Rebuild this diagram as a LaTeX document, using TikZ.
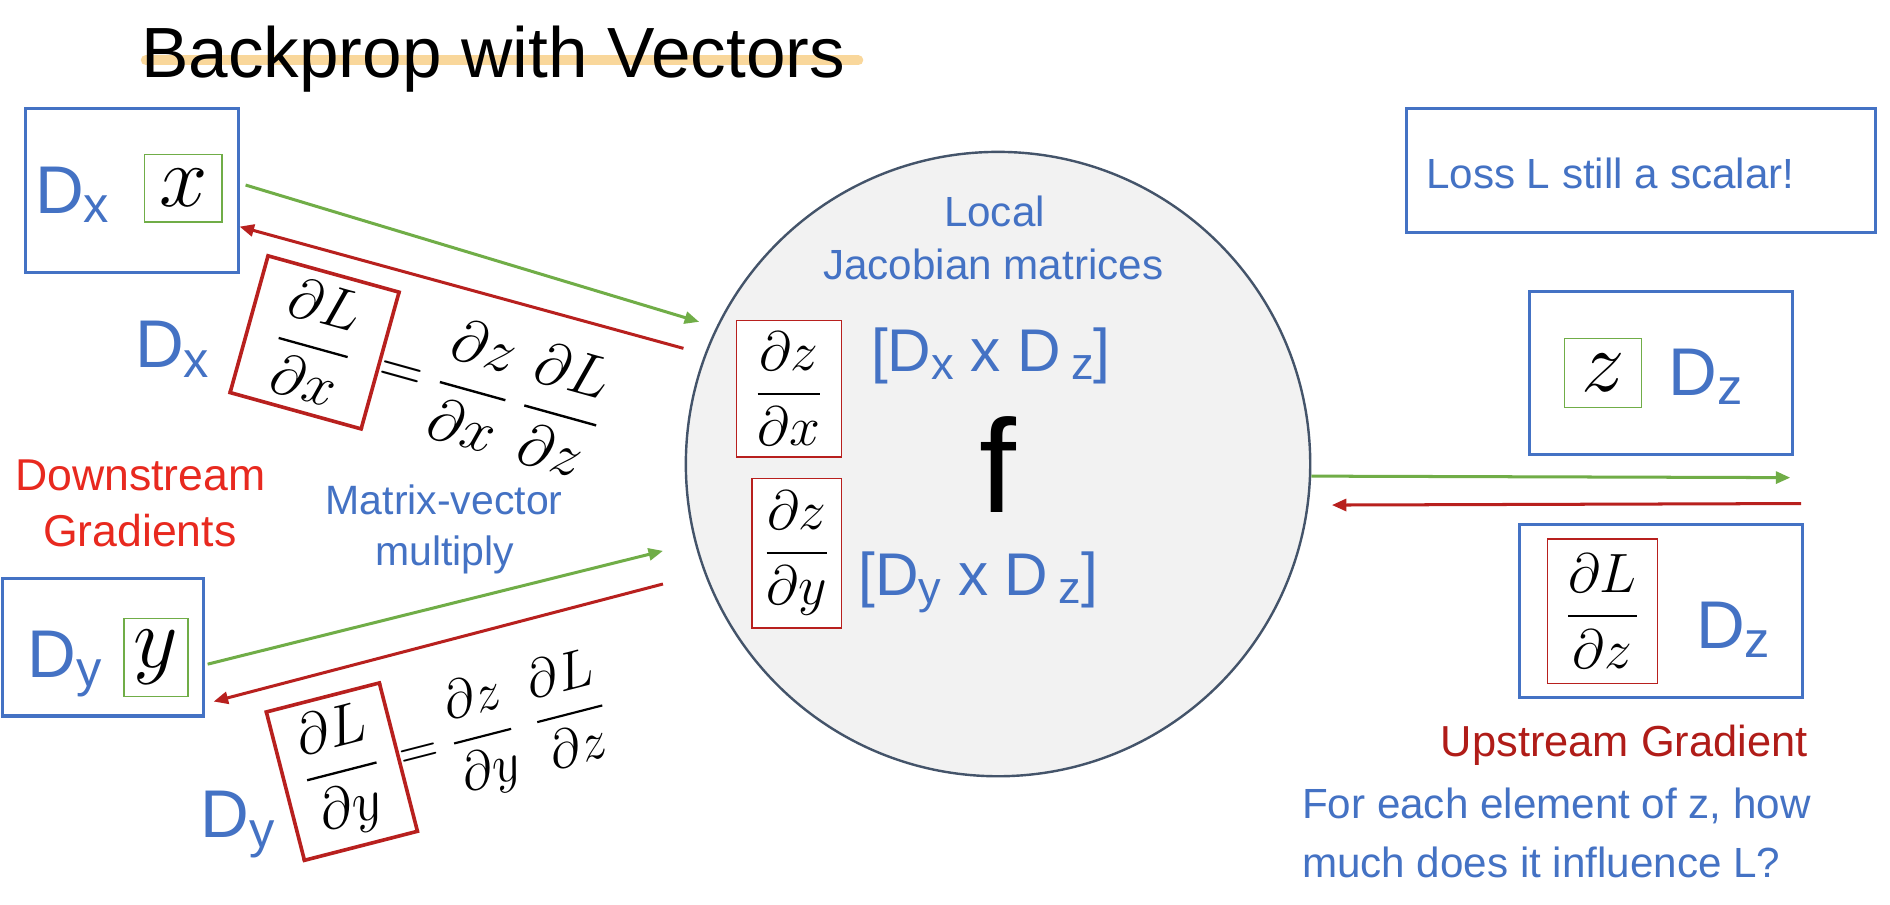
\RequirePackage{fix-cm}
\documentclass[tikz,border=0pt]{standalone}
\usepackage{amsmath,amssymb}
\usepackage[no-math]{fontspec}
\setmainfont{Liberation Sans}
\usepackage{xcolor}
\usepackage{graphicx}
\usepackage{tikz}
\usetikzlibrary{
  arrows.meta,
  positioning
}

\definecolor{boxblue}{HTML}{4472C4}
\definecolor{fwdgreen}{HTML}{70AD47}
\definecolor{bwdred}{HTML}{B8201E}
\definecolor{downred}{HTML}{E8291F}
\definecolor{upred}{HTML}{B01C18}
\definecolor{fgray}{HTML}{F2F2F2}
\definecolor{fborder}{HTML}{44546A}
\definecolor{marker}{HTML}{F9D79B}

\newcommand{\fsz}[2]{\fontsize{#1}{#2}\selectfont}
\newcommand{\lowsub}[1]{\raisebox{-0.14em}{\scalebox{0.75}{#1}}}

\begin{document}
\begin{tikzpicture}[
        x=1pt,y=-1pt,
        bluebox/.style={draw=boxblue,line width=2.5pt,inner sep=0pt},
        varbox/.style={draw=fwdgreen,line width=1.2pt,fill=white,inner sep=0pt,font=\fsz{72}{80}},
        jacbox/.style={draw=bwdred,line width=1.3pt,fill=white,inner sep=0pt,font=\fsz{46}{52}},
        bigD/.style={text=boxblue,font=\fsz{56}{60},inner sep=0pt,anchor=base west},
        bluetext/.style={text=boxblue,font=\fsz{35}{42},inner sep=0pt},
        fwd/.style={draw=fwdgreen,line width=2.5pt,-{Triangle[length=12pt,width=10pt]}},
        bwd/.style={draw=bwdred,line width=2.5pt,-{Triangle[length=12pt,width=10pt]}}
      ]
      \path[use as bounding box,fill=white] (0,0) rectangle (1568,750);

      % タイトル
      \draw[marker,line width=8.4pt,line cap=round] (121,50) -- (712,50);
      \node[anchor=base west,inner sep=0pt,font=\fsz{59}{66}] (title) at (117,64) {Backprop with Vectors};

      % 入力 x, y
      \node[bluebox,minimum width=176pt,minimum height=136pt] (dxbox) at (109.5,158) {};
      \node[bigD] (dxlab) at (29,177) {D\lowsub{x}};
      \node[varbox,minimum width=64pt,minimum height=56pt] (xvar) at (152,156) {$x$};
      \node[bluebox,minimum width=167pt,minimum height=114pt] (dybox) at (85.5,537) {};
      \node[bigD] (dylab) at (23,562) {D\lowsub{y}};
      \node[varbox,minimum width=53pt,minimum height=65pt] (yvar) at (129.5,545.5) {$y$};

      % 下流の勾配
      \node[bigD] (dxgrad) at (112,305) {D\lowsub{x}};
      \node[rotate=-15.5,inner sep=0pt,font=\fsz{48}{56}] (dLdx) at (351,309)
        {\setlength\fboxrule{3pt}\setlength\fboxsep{8pt}\fcolorbox{bwdred}{white}{\kern16pt$\dfrac{\partial L}{\partial x}$\kern16pt}{\fsz{50}{56}$=\dfrac{\partial z}{\partial x}\;\dfrac{\partial L}{\partial z}$}};
      \node[bigD] (dygrad) at (166,695) {D\lowsub{y}};
      \node[rotate=14.4,inner sep=0pt,font=\fsz{48}{56}] (dLdy) at (368,618.5)
        {\setlength\fboxrule{3pt}\setlength\fboxsep{8pt}\fcolorbox{bwdred}{white}{\kern8pt$\dfrac{\partial L}{\partial y}$\kern8pt}{\fsz{45}{50}$=\dfrac{\partial z}{\partial y}\;\,\dfrac{\partial L}{\partial z}$}};
      \node[text=downred,font=\fsz{37}{44},inner sep=0pt,anchor=base] (down1) at (116.5,407) {Downstream};
      \node[text=downred,font=\fsz{37}{44},inner sep=0pt,anchor=base] (down2) at (116,453) {Gradients};
      \node[bluetext,font=\fsz{34}{40},anchor=base] (mv1) at (368.5,427) {Matrix-vector};
      \node[bluetext,font=\fsz{34}{40},anchor=base] (mv2) at (369,469) {multiply};

      % 関数 f
      \node[circle,draw=fborder,line width=2pt,fill=fgray,minimum size=518pt,inner sep=0pt,font=\fsz{110}{116}] (fnode) at (828,385) {f};
      \node[bluetext,anchor=base] (local) at (825,188) {Local};
      \node[bluetext,anchor=base] (jacob) at (824,232) {Jacobian matrices};
      \node[jacbox,minimum width=87pt,minimum height=113pt] (dzdx) at (654.5,322.5) {$\dfrac{\partial z}{\partial x}$};
      \node[text=boxblue,font=\fsz{50}{56},inner sep=0pt] (jxdim) at (822,295) {[D\lowsub{x} x D\,\lowsub{z}]};
      \node[jacbox,minimum width=74pt,minimum height=124pt] (dzdy) at (661,459) {$\dfrac{\partial z}{\partial y}$};
      \node[text=boxblue,font=\fsz{50}{56},inner sep=0pt] (jydim) at (811.5,483) {[D\lowsub{y} x D\,\lowsub{z}]};

      % 出力 z と上流の勾配
      \node[bluebox,minimum width=389pt,minimum height=103pt] (lossbox) at (1361.5,141.5) {};
      \node[bluetext,anchor=base west] (losstxt) at (1183,156) {Loss L still a scalar!};
      \node[bluebox,minimum width=218pt,minimum height=135pt] (zbox) at (1378,309.5) {};
      \node[varbox,minimum width=64pt,minimum height=57pt] (zvar) at (1330,309.5) {$z$};
      \node[bigD] (dzlab) at (1384,328) {D\lowsub{z}};
      \node[bluebox,minimum width=234pt,minimum height=144pt] (gradbox) at (1378,507) {};
      \node[jacbox,minimum width=91pt,minimum height=120pt] (dLdz) at (1329.5,507) {$\dfrac{\partial L}{\partial z}$};
      \node[bigD] (dzgrad) at (1407,538) {D\lowsub{z}};
      \node[text=upred,font=\fsz{36}{42},inner sep=0pt,anchor=base] (upstream) at (1347.5,628) {Upstream Gradient};
      \node[bluetext,anchor=base west] (infl1) at (1080,679) {For each element of z, how};
      \node[bluetext,anchor=base west] (infl2) at (1080,728) {much does it influence L?};

      % 矢印
      \coordinate (xin) at (580,267);
      \coordinate (xout) at (567,289);
      \coordinate (yin) at (550,457);
      \coordinate (yout) at (550,484.5);
      \coordinate (zin) at (1105,419);
      \draw[fwd] ([shift={(5,-4.5)}]dxbox.east) -- (xin);
      \draw[bwd] (xout) -- ([shift={(0,30)}]dxbox.east);
      \draw[fwd] ([shift={(2,14)}]dybox.east) -- (yin);
      \draw[bwd] (yout) -- ([shift={(7,45)}]dybox.east);
      \draw[fwd] ([shift={(0,10)}]fnode.east) -- ([shift={(-3,18)}]zbox.south east);
      \draw[bwd] ([shift={(-2,-16)}]gradbox.north east) -- (zin);

    \end{tikzpicture}
\end{document}
